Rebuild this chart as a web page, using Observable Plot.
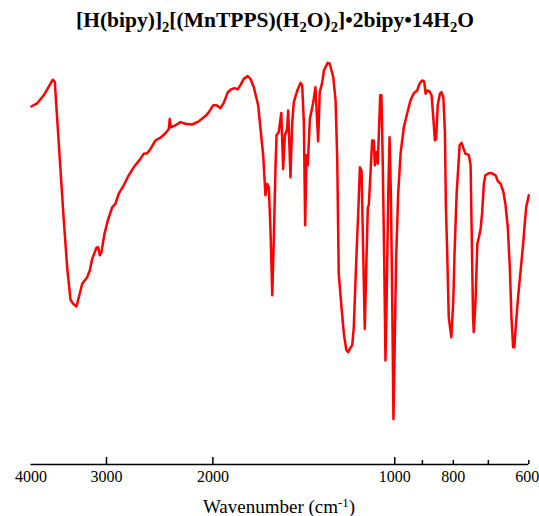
<!DOCTYPE html>
<html>
<head>
<meta charset="utf-8">
<script src="https://cdn.jsdelivr.net/npm/d3@7"></script>
<script src="https://cdn.jsdelivr.net/npm/@observablehq/plot@0.6"></script>
<style>
  html, body { margin: 0; padding: 0; background: #fff; }
  body { font-family: "Liberation Serif", "Times New Roman", serif; color: #000; }
  #wrap { width: 539px; height: 516px; overflow: hidden; position: relative; }
  .title { height: 40px; line-height: 40px; font-size: 21.5px; font-weight: bold; text-align: center;
           padding-left: 11px; box-sizing: border-box; white-space: nowrap; }
  .title sub { font-size: 0.68em; line-height: 0; vertical-align: -0.32em; }
  .xlabel { height: 26px; line-height: 30px; font-size: 19px; text-align: center; padding-left: 19px;
            padding-top: 2px; box-sizing: border-box; white-space: nowrap; }
  .xlabel sup { font-size: 0.68em; line-height: 0; vertical-align: 0.45em; }
  svg { display: block; }
</style>
</head>
<body>
<div id="wrap">
  <div class="title">[H(bipy)]<sub>2</sub>[(MnTPPS)(H<sub>2</sub>O)<sub>2</sub>]•2bipy•14H<sub>2</sub>O</div>
  <div id="chart"></div>
  <div class="xlabel">Wavenumber (cm<sup>-1</sup>)</div>
</div>
<script>
// Wavenumber (cm-1) and transmittance (%)
const wavenumber = [3995, 3907, 3810, 3713, 3681, 3653, 3598, 3530, 3485, 3441, 3406, 3363, 3334, 3291, 3229, 3197, 3168, 3117, 3096, 3078, 3058, 3023, 2985, 2936, 2899, 2863, 2809, 2756, 2704, 2636, 2603, 2569, 2537, 2489, 2442, 2396, 2366, 2357, 2348, 2306, 2263, 2220, 2164, 2110, 2057, 2031, 1998, 1973, 1943, 1919, 1889, 1865, 1842, 1819, 1800, 1778, 1751, 1733, 1711, 1683, 1668, 1651, 1637, 1626, 1616, 1606, 1595, 1586, 1575, 1569, 1556, 1541, 1530, 1520, 1507, 1501, 1488, 1478, 1469, 1450, 1432, 1423, 1414, 1407, 1400, 1393, 1382, 1364, 1353, 1339, 1331, 1318, 1310, 1302, 1291, 1281, 1264, 1253, 1245, 1238, 1225, 1214, 1203, 1194, 1184, 1176, 1169, 1158, 1149, 1142, 1135, 1130, 1121, 1114, 1108, 1104, 1097, 1090, 1083, 1079, 1073, 1067, 1063, 1057, 1052, 1047, 1041, 1036, 1031, 1025, 1020, 1015, 1010, 1005, 1000, 995, 987, 978, 966, 954, 942, 930, 918, 910, 901, 894, 889, 884, 876, 869, 864, 858, 854, 849, 842, 837, 831, 826, 823, 819, 814, 806, 800, 796, 790, 785, 781, 775, 769, 764, 754, 749, 746, 742, 740, 735, 730, 726, 721, 717, 712, 708, 699, 690, 681, 675, 668, 661, 656, 650, 645, 641, 637, 634, 630, 625, 619, 613, 610, 606, 600];
const transmittance = [89.5, 90.3, 92.3, 95.2, 96.2, 95.6, 80.2, 61, 49.3, 41.2, 40.2, 39.5, 41.8, 45.2, 46.8, 48.5, 51.4, 54.2, 54.3, 52.3, 53.1, 57.7, 61, 64.3, 65.2, 67.7, 69.8, 72.3, 74.3, 76.4, 77.7, 77.8, 78.9, 81, 81.7, 82.8, 83.9, 86.4, 84.3, 84.8, 85.6, 85.2, 85, 85.8, 87.1, 88.1, 89.8, 89.8, 89.1, 90.4, 93.1, 93.8, 94.1, 93.8, 94.9, 96.4, 97.1, 96.4, 94.3, 89.8, 83.9, 77.3, 67.3, 70.2, 69.3, 58.9, 42.3, 55.6, 74.8, 82.3, 83.1, 87.9, 73.9, 82.3, 83.9, 88.5, 71.8, 85.6, 90.6, 93.5, 95.4, 94.8, 85.6, 59.8, 77.3, 74.8, 86.4, 90.6, 94.3, 80.8, 93.1, 95.6, 98.5, 99.3, 100.4, 100.2, 96.8, 91, 76, 47.7, 39.3, 32.7, 28.7, 28.1, 29.2, 29.8, 34.3, 51, 63.5, 74.3, 73.5, 59.3, 33.9, 51, 64.3, 64.8, 72.7, 81, 81, 74.8, 78.1, 75.2, 81.8, 92.3, 92.3, 76, 51, 26, 42.8, 67.8, 81.8, 67.8, 42.8, 11.4, 30.3, 51, 67.8, 77.8, 84.3, 87.7, 91, 92.8, 93.5, 95.2, 96, 95.8, 92.7, 93.5, 93.3, 92.3, 87.3, 81, 81.4, 89.8, 92.7, 93.1, 91.8, 83.1, 64.8, 53.5, 36.8, 31.8, 41, 53.5, 67.7, 74.3, 79.8, 80.4, 78.9, 77.7, 77.4, 74.8, 58.5, 36.8, 33.1, 41, 55.2, 56.7, 58.9, 62.7, 70.2, 72.3, 72.8, 72.8, 72.3, 70.8, 70.2, 68.1, 65.2, 59.3, 49.3, 36.8, 29.3, 29.3, 35.2, 41.8, 48.5, 55.2, 59.3, 64.3, 67.3];

// Axis ticks
const majorTicks = [3000, 2000, 1000];
const minorTicks = [900, 800, 700, 600];
const tickLabels = [4000, 3000, 2000, 1000, 800, 600];

const n = Math.min(wavenumber.length, transmittance.length);
const spectrum = d3.range(n).map(i => ({w: wavenumber[i], t: transmittance[i]}));

const H = 450, marginTop = 24, marginBottom = 26;
const pxPerUnit = (H - marginTop - marginBottom) / 100;
const serif = '"Liberation Serif", "Times New Roman", serif';
const lastLabel = tickLabels[tickLabels.length - 1];

const chart = Plot.plot({
  width: 539,
  height: H,
  marginLeft: 30.5,
  marginRight: 10.7,
  marginTop,
  marginBottom,
  style: {background: "#fff", fontFamily: serif},
  x: {type: "log", domain: [4000, 600], axis: null},
  y: {domain: [0, 100], axis: null},
  marks: [
    Plot.line(spectrum, {x: "w", y: "t", stroke: "#ff0000", strokeWidth: 2.5, strokeLinejoin: "round", strokeLinecap: "round"}),
    Plot.ruleY([0], {stroke: "#000", strokeWidth: 1.7}),
    Plot.ruleX(majorTicks, {x: d => d, y1: 0, y2: 7 / pxPerUnit, stroke: "#000", strokeWidth: 1.5}),
    Plot.ruleX(minorTicks, {x: d => d, y1: 0, y2: 4 / pxPerUnit, stroke: "#000", strokeWidth: 1.5}),
    Plot.text(tickLabels.filter(d => d !== lastLabel), {x: d => d, y: 0, text: d => String(d), dy: 6.6, lineAnchor: "top",
      fontSize: 16, fontFamily: serif, fill: "#000"}),
    Plot.text([lastLabel], {x: d => d, y: 0, text: d => String(d), dy: 6.6, dx: 10.5, lineAnchor: "top", textAnchor: "end",
      fontSize: 16, fontFamily: serif, fill: "#000"})
  ]
});
document.getElementById("chart").appendChild(chart);
</script>
</body>
</html>
